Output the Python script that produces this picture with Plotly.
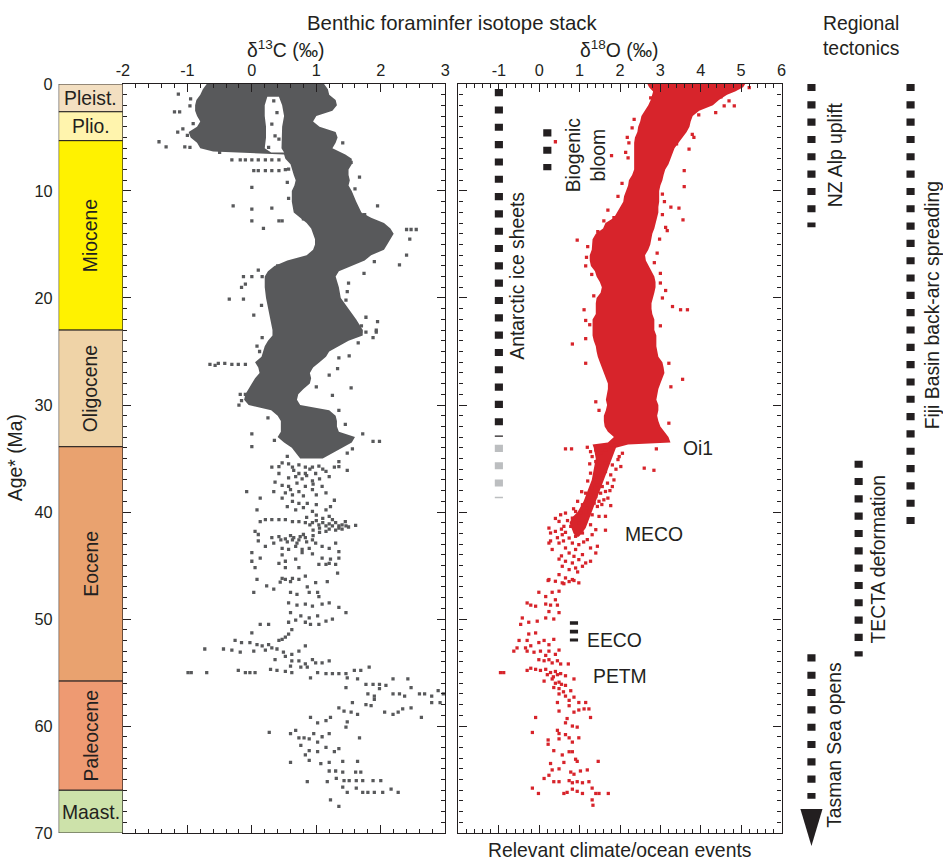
import plotly.graph_objects as go

# ------------------------------------------------------------------ data
# Geologic time scale (Ma)
EPOCHS = ["Pleist.", "Plio.", "Miocene", "Oligocene", "Eocene", "Paleocene", "Maast."]
EPOCH_START = [0.0, 2.6, 5.3, 23.0, 33.9, 55.8, 66.0]
EPOCH_END = [2.6, 5.3, 23.0, 33.9, 55.8, 66.0, 70.0]

AGE_TICKS = [0, 10, 20, 30, 40, 50, 60, 70]
C13_TICKS = [-2, -1, 0, 1, 2, 3]
O18_TICKS = [-1, 0, 1, 2, 3, 4, 5, 6]

# delta13C: densely sampled Neogene/Oligocene part (outer envelope, permil)
C13_CORE_AGE = [0, 0.5, 1, 1.5, 2, 2.5, 3, 3.5, 4, 4.5, 5, 5.5, 6, 6.3, 6.6, 7, 7.5, 8, 8.5, 9,
                9.5, 10, 11, 12, 12.5, 13, 13.5, 14, 14.5, 15, 15.5, 16, 16.5, 17, 17.5, 18, 19, 20, 21, 22,
                23, 23.5, 24, 24.5, 25, 25.5, 26, 26.5, 27, 27.5, 28, 28.5, 29, 29.5, 30, 30.5, 31, 31.5, 32, 32.5,
                33, 33.5, 34, 34.5, 35]
C13_CORE_LO = [-0.70, -0.76, -0.80, -0.86, -0.88, -0.88, -0.85, -0.80, -0.85, -0.98,
               -0.95, -0.85, -0.80, -0.60, 0.50, 0.52, 0.60, 0.62, 0.65, 0.68,
               0.66, 0.62, 0.62, 0.65, 0.75, 0.85, 0.92, 0.95, 0.98, 0.98,
               0.95, 0.85, 0.55, 0.35, 0.25, 0.20, 0.20, 0.22, 0.25, 0.28,
               0.32, 0.32, 0.25, 0.20, 0.18, 0.15, 0.05, 0.10, 0.12, 0.05,
               0.00, -0.05, -0.10, -0.12, -0.05, 0.30, 0.40, 0.45, 0.45, 0.45,
               0.40, 0.50, 0.62, 0.68, 0.75]
C13_CORE_HI = [1.12, 1.18, 1.20, 1.30, 1.32, 1.25, 1.00, 0.95, 1.05, 1.30,
               1.33, 1.30, 1.25, 1.35, 1.45, 1.55, 1.55, 1.50, 1.50, 1.52,
               1.50, 1.55, 1.62, 1.70, 1.85, 2.05, 2.15, 2.20, 2.15, 2.10,
               2.05, 1.85, 1.75, 1.55, 1.35, 1.30, 1.35, 1.38, 1.50, 1.62,
               1.72, 1.72, 1.50, 1.35, 1.20, 1.15, 1.05, 0.95, 0.90, 0.92,
               0.90, 0.80, 0.72, 0.70, 0.75, 1.20, 1.30, 1.32, 1.32, 1.35,
               1.60, 1.55, 1.40, 1.25, 1.10]
# empty notch between the two Plio-Pleistocene delta13C clusters
C13_GAP_AGE = [1.2, 2.0, 3.0, 4.0, 5.0, 6.0, 6.4]
C13_GAP_LO = [0.24, 0.20, 0.20, 0.22, 0.22, 0.20, 0.30]
C13_GAP_HI = [0.42, 0.47, 0.50, 0.47, 0.46, 0.46, 0.50]
# individual delta13C samples (value, age)
C13_SCATTER = [
    (-0.96, 2.05), (-1.20, 2.61), (-1.12, 2.61), (-0.91, 3.70), (-1.15, 4.50), (-1.07, 4.20),
    (-1.44, 5.40), (-1.33, 5.87), (-1.04, 5.87), (-0.96, 5.93), (-1.14, 0.95), (-0.95, 1.40), (-1.00, 4.80),
    (0.31, 3.76), (0.36, 4.84), (0.26, 5.93), (0.42, 5.16), (0.34, 1.58), (0.39, 2.67), (-0.50, 6.40),
    (-0.31, 7.10), (-0.18, 7.10), (-0.10, 7.10), (0.00, 7.10), (0.10, 7.10), (0.21, 7.10), (0.31, 7.10), (0.42, 7.10),
    (0.03, 8.10), (0.10, 8.10), (0.21, 8.10), (0.31, 8.10), (0.42, 8.10), (0.52, 8.00), (0.57, 7.95),
    (0.00, 9.66), (-0.29, 11.40), (0.00, 11.70), (0.00, 12.80), (0.31, 11.60), (0.18, 13.50), (0.55, 9.20),
    (0.42, 12.80), (0.47, 12.80), (0.57, 10.70), (1.95, 11.40), (1.67, 8.70), (1.41, 5.50), (1.54, 7.33),
    (1.60, 9.80), (1.75, 12.20), (0.80, 12.60),
    (2.40, 13.60), (2.47, 13.60), (2.55, 13.60), (2.45, 14.50), (2.40, 16.00), (2.29, 16.90),
    (1.90, 16.60), (1.74, 17.70), (1.48, 19.40), (1.46, 20.20), (0.40, 17.00), (0.10, 17.40), (1.50, 18.60),
    (-0.13, 18.00), (0.00, 18.00), (0.16, 18.00), (-0.16, 19.00), (-0.10, 18.70), (0.15, 20.70),
    (-0.35, 20.10), (-0.13, 20.10), (0.03, 21.60), (1.77, 21.80), (1.95, 22.20), (1.93, 23.00), (1.69, 23.10),
    (1.70, 22.60), (1.65, 24.20), (0.12, 25.00), (1.20, 27.20), (1.00, 28.30), (-0.20, 30.00),
    (0.25, 31.20), (1.45, 31.80), (0.35, 33.30), (0.55, 34.80),
    (-0.65, 26.20), (-0.57, 26.30), (-0.52, 26.10), (-0.42, 26.10), (-0.31, 26.20), (-0.21, 26.20),
    (-0.10, 26.20), (-0.18, 29.00), (-0.10, 29.00), (-0.16, 29.60), (0.00, 32.70), (0.00, 33.90),
    (0.08, 24.50), (0.16, 23.70), (1.77, 23.20), (1.93, 23.20), (1.88, 23.70), (1.51, 25.40),
    (1.35, 25.60), (1.33, 26.60), (1.54, 28.40), (1.25, 29.10), (1.35, 30.50), (1.72, 32.70),
    (1.98, 33.40), (1.88, 33.40), (1.56, 34.10), (1.48, 34.50), (1.35, 35.30), (1.48, 36.10),
    (0.47, 35.40), (0.57, 35.50), (0.63, 35.80), (0.73, 35.60), (0.83, 35.80), (0.94, 35.80), (1.04, 35.70),
    (0.31, 35.80), (0.42, 35.75), (1.15, 36.20), (1.28, 35.80), (1.35, 35.75),
    (0.42, 36.40), (0.73, 36.40), (0.83, 36.40), (0.99, 36.40), (0.65, 36.10), (0.90, 36.00), (1.10, 36.00),
    (0.57, 36.80), (0.68, 36.70), (0.78, 36.90), (0.94, 37.10), (1.20, 36.70), (0.85, 36.60), (1.05, 36.90),
    (0.36, 37.20), (0.47, 37.50), (0.57, 37.60), (0.83, 37.60), (1.09, 37.60), (0.70, 37.30), (0.95, 37.40),
    (0.34, 38.10), (0.52, 38.20), (0.63, 38.40), (0.73, 38.10), (0.94, 37.90), (1.15, 38.20), (-0.08, 38.10),
    (0.80, 38.50), (1.00, 38.40), (0.60, 37.90),
    (0.47, 38.70), (0.63, 39.00), (0.73, 39.20), (0.86, 39.20), (1.28, 38.90), (0.13, 38.70), (0.08, 39.80),
    (0.55, 39.50), (0.68, 39.80), (0.94, 39.95), (1.15, 39.80), (1.22, 39.50), (0.80, 39.60), (1.00, 39.30),
    (0.21, 40.70), (0.31, 40.70), (0.42, 40.70), (0.52, 40.70), (0.63, 40.90), (0.73, 40.90), (0.83, 41.00),
    (0.94, 41.00), (1.04, 41.20), (1.15, 41.30), (1.25, 41.30), (1.35, 41.30), (1.46, 41.30), (1.61, 41.25),
    (1.00, 40.80), (1.10, 41.00), (1.20, 41.10), (1.30, 41.00), (1.40, 41.20), (1.50, 41.40), (1.05, 41.50),
    (1.20, 41.60), (1.35, 41.50), (0.95, 41.70), (1.10, 40.60), (1.25, 40.70), (1.45, 40.90), (0.90, 41.20),
    (1.15, 41.80), (1.30, 41.70), (0.13, 40.90), (0.05, 41.80), (0.10, 42.10), (1.00, 40.30), (1.20, 40.40),
    (0.85, 40.50), (1.05, 41.90), (1.40, 41.60),
    (0.31, 42.40), (0.42, 42.30), (0.52, 42.50), (0.63, 42.60), (0.73, 42.60), (0.83, 42.40), (0.94, 42.60),
    (0.60, 42.20), (0.75, 42.30), (0.85, 42.80), (0.55, 42.80), (0.70, 42.90), (0.95, 42.20),
    (0.65, 42.40), (0.80, 42.10), (0.45, 42.60),
    (0.10, 42.70), (0.21, 43.20), (0.34, 42.90), (0.47, 43.40), (0.57, 43.50), (0.68, 43.20), (0.78, 43.50),
    (0.89, 43.40), (0.99, 42.90), (1.09, 43.20), (1.20, 43.40), (1.30, 42.90), (1.35, 43.70),
    (0.00, 43.80), (0.13, 44.30), (0.47, 44.00), (0.68, 44.40), (0.78, 43.80), (0.94, 43.90), (1.09, 44.30),
    (1.22, 44.40), (1.35, 44.30), (0.00, 44.60), (0.42, 44.80), (0.52, 44.60), (1.20, 44.80), (1.30, 44.90),
    (0.05, 45.20), (0.52, 45.20), (0.73, 45.20), (1.04, 44.90), (1.15, 44.90), (0.08, 46.30),
    (0.47, 46.20), (0.52, 46.30), (0.63, 46.20), (0.73, 46.30), (0.83, 46.00), (0.99, 46.60), (1.17, 46.50),
    (1.33, 45.70),
    (0.03, 47.50), (0.23, 46.90), (0.34, 47.20), (0.44, 46.55), (0.60, 46.50), (0.86, 47.00),
    (1.02, 47.50), (0.60, 47.50), (0.70, 47.70), (0.89, 47.50), (1.04, 47.90),
    (0.57, 48.50), (0.70, 48.70), (0.83, 48.60), (0.94, 48.80), (1.09, 48.60), (1.20, 48.50), (1.35, 48.90),
    (1.46, 49.40), (0.60, 49.40), (0.76, 49.70), (0.89, 49.90), (1.02, 49.70), (1.15, 50.20), (1.25, 50.00),
    (0.68, 50.10), (0.83, 50.30), (0.91, 50.50), (1.04, 50.50), (0.13, 50.50), (0.26, 50.50), (0.00, 51.30),
    (0.57, 50.30), (0.62, 51.00), (0.57, 51.40), (0.52, 51.70), (0.47, 51.90), (0.42, 52.00),
    (-0.26, 52.00), (-0.16, 52.20), (-0.03, 52.20), (0.08, 52.40), (0.16, 52.50), (0.26, 52.40), (0.31, 52.70),
    (-0.73, 52.80), (-0.44, 52.80), (-0.31, 52.90), (-0.18, 53.10),
    (0.03, 53.00), (0.21, 52.90), (0.39, 52.80), (0.49, 53.10), (0.62, 53.30), (0.73, 53.00), (0.83, 52.50),
    (-0.99, 55.00), (-0.94, 55.00), (-0.70, 55.00), (-0.21, 54.80), (-0.10, 55.00), (-0.03, 55.00), (0.05, 55.00),
    (0.29, 54.70), (0.39, 54.80), (0.52, 54.90), (0.62, 55.00),
    (0.36, 53.80), (0.52, 53.50), (0.62, 53.90), (0.73, 53.90), (0.83, 54.20), (0.94, 53.80), (0.99, 54.10),
    (1.09, 54.10), (1.20, 53.90), (0.60, 54.40), (0.76, 54.50), (0.86, 54.50), (0.91, 55.50),
    (1.02, 55.00), (1.15, 55.10), (1.25, 55.10), (1.35, 55.10), (1.46, 55.10), (1.59, 54.80), (1.69, 54.80),
    (1.82, 54.50), (1.48, 55.50), (1.64, 55.60), (1.77, 56.10), (1.88, 56.10), (1.98, 56.10), (2.08, 56.20),
    (2.19, 55.60), (1.46, 56.40),
    (1.80, 57.00), (1.90, 57.20), (1.98, 56.50), (2.19, 57.00), (2.29, 57.00), (2.37, 57.20), (2.42, 55.60),
    (2.47, 56.40), (2.60, 57.00), (2.68, 57.00), (2.79, 57.20), (2.89, 56.70), (2.97, 57.00),
    (2.79, 57.80), (2.92, 57.80), (2.63, 59.20), (2.47, 58.30), (2.34, 58.40), (2.27, 58.70), (2.19, 58.90),
    (2.06, 58.70), (1.85, 58.10), (1.77, 58.00), (1.90, 57.50),
    (1.35, 58.30), (1.43, 58.60), (1.54, 58.70), (1.64, 58.90), (1.56, 57.80),
    (1.46, 60.10), (1.48, 59.60), (1.67, 61.10), (0.91, 59.20), (1.02, 59.70), (1.15, 59.50), (1.22, 59.20),
    (0.27, 60.60), (0.60, 60.70), (0.68, 60.40), (0.73, 61.10), (0.81, 61.10), (0.89, 61.20), (0.96, 60.70),
    (1.02, 61.50), (1.09, 61.00), (1.20, 60.70),
    (0.76, 61.80), (0.89, 62.30), (1.02, 62.40), (1.15, 62.00), (1.28, 62.40), (1.35, 62.10),
    (0.60, 63.40), (0.83, 62.70), (0.89, 63.20), (1.07, 63.50), (1.20, 63.40), (1.41, 63.30), (1.64, 63.30),
    (1.20, 64.20), (1.30, 64.20), (1.41, 64.30), (1.61, 64.30), (1.69, 64.30),
    (1.31, 64.90), (1.43, 65.10), (1.51, 65.10), (1.62, 65.10), (1.72, 65.10), (1.88, 65.10), (2.00, 65.10),
    (0.86, 65.20), (1.17, 65.20), (1.41, 65.70), (1.62, 65.80),
    (1.72, 66.20), (1.80, 66.20), (1.90, 66.20), (2.03, 66.20), (2.16, 65.90), (2.27, 66.20), (1.48, 66.20),
    (1.22, 66.90), (1.35, 67.50),
]

# delta18O: densely sampled Neogene/Oligocene/late Eocene part (outer envelope, permil)
O18_CORE_AGE = [0, 0.3, 0.7, 1, 1.5, 2, 2.5, 3, 3.5, 4,
                4.5, 5, 5.5, 6, 7, 7.5, 8, 8.5, 9, 9.5,
                10, 10.5, 11, 11.5, 12, 12.5, 13, 13.5, 14, 14.5,
                15, 15.5, 16, 16.5, 17, 17.5, 18, 18.5, 19, 19.5,
                20, 20.5, 21, 21.5, 22, 22.5, 23, 23.5, 24, 24.5,
                25, 25.5, 26, 26.5, 27, 27.5, 28, 28.5, 29, 29.5,
                30, 30.5, 31, 31.5, 32, 32.5, 33, 33.5, 33.7, 34,
                35, 36, 37, 38, 39, 40, 40.5, 41, 41.5, 42, 42.3]
O18_CORE_LO = [2.68, 2.72, 2.82, 2.80, 2.76, 2.70, 2.62, 2.53, 2.50, 2.45,
               2.43, 2.37, 2.35, 2.35, 2.35, 2.35, 2.35, 2.30, 2.22, 2.20,
               2.14, 2.10, 2.08, 2.00, 1.92, 1.85, 1.64, 1.58, 1.40, 1.32,
               1.31, 1.30, 1.25, 1.25, 1.28, 1.38, 1.42, 1.50, 1.55, 1.52,
               1.42, 1.40, 1.40, 1.40, 1.32, 1.32, 1.32, 1.32, 1.35, 1.40,
               1.42, 1.45, 1.50, 1.55, 1.60, 1.65, 1.70, 1.70, 1.68, 1.65,
               1.68, 1.65, 1.60, 1.60, 1.62, 1.70, 1.85, 1.70, 1.32, 1.35,
               1.40, 1.35, 1.30, 1.20, 1.10, 0.95, 0.82, 0.75, 0.80, 0.85, 0.92]
O18_CORE_HI = [5.10, 5.05, 4.85, 4.65, 4.45, 4.30, 3.96, 3.80, 3.75, 3.72,
               3.65, 3.55, 3.45, 3.35, 3.25, 3.20, 3.12, 3.08, 3.05, 3.00,
               2.97, 2.97, 2.97, 2.95, 2.95, 2.92, 2.88, 2.85, 2.80, 2.78,
               2.75, 2.70, 2.62, 2.64, 2.70, 2.78, 2.85, 2.88, 2.88, 2.85,
               2.82, 2.78, 2.78, 2.80, 2.85, 2.85, 2.85, 2.90, 2.90, 2.90,
               2.92, 2.95, 3.05, 3.08, 3.10, 3.05, 3.00, 2.95, 2.92, 2.90,
               2.95, 2.95, 2.92, 2.95, 3.00, 3.10, 3.20, 3.25, 2.20, 1.90,
               1.80, 1.70, 1.60, 1.50, 1.40, 1.30, 1.25, 1.20, 1.15, 1.05, 0.98]
# individual delta18O samples (value, age)
O18_SCATTER = [
    (0.40, 5.40), (1.79, 6.70), (0.94, 14.60), (1.15, 17.00), (1.11, 21.10), (1.15, 22.10),
    (3.59, 8.10), (3.59, 9.60), (3.71, 6.10), (3.79, 4.70), (3.83, 5.00), (4.37, 2.67), (4.58, 2.05),
    (4.70, 1.58), (4.83, 2.05), (5.20, 0.34), (3.26, 11.50), (3.46, 11.60), (3.56, 12.70), (3.13, 13.40),
    (3.17, 13.70), (3.13, 19.30), (3.00, 17.70), (3.30, 20.80), (3.50, 21.10), (3.67, 21.10), (2.76, 1.30),
    (2.18, 5.00), (2.22, 5.50), (2.14, 6.40), (1.60, 12.80), (1.85, 12.50),
    (2.35, 3.30), (2.30, 4.10), (2.20, 6.90), (2.05, 9.30), (1.95, 10.50), (1.70, 11.80), (1.45, 13.80),
    (1.20, 15.20), (1.17, 16.20), (1.30, 17.80), (1.35, 19.80), (1.25, 22.50), (3.05, 10.30), (3.10, 11.00),
    (3.05, 12.20), (2.98, 14.50), (2.92, 15.80), (2.85, 16.70), (3.00, 18.60), (3.05, 20.00), (3.00, 22.60),
    (3.40, 5.60), (3.55, 4.20), (4.20, 1.80), (4.50, 1.20), (3.95, 2.90),
    (0.82, 24.30), (1.15, 26.10), (1.15, 23.80), (3.55, 27.60), (3.26, 28.30), (3.21, 26.10), (1.40, 29.70),
    (1.48, 30.50), (3.21, 31.70), (0.65, 34.10), (0.80, 34.10), (2.60, 35.90), (2.84, 36.10), (2.90, 34.10),
    (1.77, 39.40), (1.64, 40.40), (1.64, 41.70), (0.24, 41.50), (0.28, 42.70), (0.32, 43.50), (0.49, 44.40),
    (1.44, 43.20),
    (1.19, 33.95), (1.27, 34.36), (1.40, 34.20), (1.52, 34.51), (1.64, 34.20), (1.77, 34.05), (1.89, 33.73),
    (2.06, 34.51), (1.98, 34.82), (1.40, 35.29), (1.48, 35.75), (1.64, 35.44), (1.81, 35.60), (2.02, 35.75),
    (1.31, 34.82), (1.27, 36.37), (1.40, 36.69), (1.52, 36.84), (1.64, 36.22), (1.77, 36.53), (1.85, 37.00),
    (1.44, 37.46), (1.56, 37.62), (1.69, 37.30), (1.81, 37.62), (1.31, 37.77), (1.95, 35.10), (1.90, 36.00),
    (1.25, 35.50), (1.20, 37.10), (1.75, 38.00), (1.70, 38.70), (1.05, 38.10), (1.55, 39.30),
    (1.15, 38.24), (1.27, 38.39), (1.40, 38.55), (1.52, 38.24), (1.64, 38.08), (1.23, 38.86), (1.36, 39.17),
    (1.48, 39.00), (1.60, 38.86), (1.07, 39.32), (1.19, 39.64), (1.44, 39.48), (0.95, 39.00), (0.85, 39.70),
    (0.90, 39.95), (1.02, 40.10), (1.15, 39.95), (1.31, 40.26), (1.48, 40.41), (0.53, 40.26), (0.65, 40.10),
    (0.82, 40.57), (0.49, 40.88), (0.61, 41.34), (0.78, 41.34), (0.98, 41.03), (1.15, 40.88), (1.27, 41.19),
    (1.40, 41.65), (0.28, 41.96), (0.40, 41.81), (0.57, 42.12), (0.74, 42.43), (0.90, 42.27),
    (1.07, 41.96), (1.19, 42.58), (1.31, 42.12), (0.82, 42.90), (0.98, 43.05), (0.49, 42.90), (0.65, 43.36),
    (0.24, 42.90), (1.27, 43.36), (1.40, 43.83), (0.40, 40.60), (0.55, 41.60), (0.70, 40.80), (0.45, 42.40),
    (0.65, 41.90), (1.10, 42.80), (0.90, 43.50), (0.60, 42.70),
    (0.74, 43.83), (0.86, 44.14), (0.98, 44.45), (1.15, 44.76), (1.07, 43.98), (0.65, 44.60), (0.82, 44.76),
    (0.57, 45.07), (0.74, 45.38), (0.90, 45.23), (1.07, 45.07), (1.27, 44.60), (0.49, 45.85), (0.65, 46.16),
    (0.24, 46.31), (0.40, 46.47), (0.57, 46.62), (0.82, 46.31), (0.98, 46.62), (0.55, 44.10), (0.95, 45.60),
    (0.22, 46.40), (0.61, 46.70), (0.74, 46.50), (0.86, 46.40),
    (-0.01, 47.50), (0.16, 47.90), (0.32, 47.50), (0.49, 47.40), (0.40, 48.20),
    (-0.30, 48.50), (-0.21, 48.70), (-0.09, 48.80), (0.16, 48.60), (0.28, 48.70), (0.45, 48.70), (0.24, 49.30),
    (-0.42, 49.90), (-0.46, 50.50), (-0.26, 50.30), (-0.05, 50.20), (0.16, 49.90), (0.36, 50.00), (0.49, 49.40),
    (-0.09, 51.30), (-0.26, 51.40), (-0.30, 52.00),
    (-0.50, 52.00), (-0.63, 53.00), (-0.55, 52.70), (-0.34, 52.70), (-0.21, 52.50), (-0.01, 52.20),
    (0.12, 52.00), (0.24, 52.40), (0.36, 51.90),
    (-0.30, 53.00), (-0.13, 53.10), (0.03, 53.00), (0.16, 53.40), (0.24, 53.00), (0.40, 53.30), (0.49, 52.90),
    (-0.01, 53.80), (0.12, 53.90), (0.24, 53.80), (0.32, 54.10), (0.45, 53.90), (0.53, 54.20), (0.72, 54.20),
    (-0.96, 55.00), (-0.88, 55.00),
    (-0.30, 54.80), (-0.21, 54.60), (-0.09, 54.70), (0.03, 54.80), (0.16, 54.70), (0.28, 55.00), (0.40, 54.90),
    (0.53, 55.10), (0.65, 55.30), (0.86, 55.60), (0.20, 55.20), (0.35, 55.40), (0.45, 55.20),
    (0.12, 55.80), (0.32, 55.60), (0.49, 55.90), (0.36, 56.40), (0.49, 56.50), (0.65, 56.20), (0.78, 56.70),
    (0.40, 56.00), (0.55, 56.10), (0.60, 56.80),
    (0.49, 57.00), (0.65, 57.20), (0.86, 57.30), (0.98, 57.80), (1.15, 57.80), (0.74, 57.60),
    (0.45, 57.80), (0.49, 58.60), (0.74, 58.10), (0.86, 58.70), (0.98, 58.50), (1.11, 58.40), (1.23, 58.40),
    (1.27, 59.20), (-0.09, 59.20), (0.69, 59.30), (0.65, 59.70), (0.82, 60.00), (0.94, 60.10),
    (-0.17, 60.60), (0.45, 60.40), (0.49, 60.70), (0.65, 60.80), (0.74, 61.10), (0.49, 61.20), (0.82, 61.50),
    (0.98, 61.10), (0.22, 61.30), (0.22, 61.70), (0.36, 62.30), (0.57, 62.70), (0.74, 62.40), (0.82, 62.40),
    (0.90, 63.10), (0.94, 63.30), (0.61, 63.40), (1.46, 63.30),
    (0.28, 63.50), (0.32, 64.10), (0.24, 64.60), (0.12, 64.90), (0.49, 64.00), (0.78, 64.30), (0.86, 64.50),
    (1.02, 64.20), (1.19, 64.10),
    (0.36, 65.20), (0.49, 65.20), (0.74, 65.10), (0.82, 65.30), (0.94, 65.20), (1.07, 65.30), (1.23, 65.20),
    (-0.17, 65.80), (-0.02, 66.30), (0.61, 66.30), (0.69, 66.20), (0.82, 65.90), (0.94, 66.10), (1.07, 66.30),
    (1.31, 65.80), (1.40, 66.30), (1.48, 66.30), (1.71, 66.30), (1.31, 66.90), (1.33, 67.40),
]

# climate / ocean events (age ranges, Ma)
ICE_SHEETS = (0.48, 32.97)
ICE_SHEETS_EARLY = (33.72, 38.72)
BIOGENIC_BLOOM = (4.24, 8.06)
EECO = (50.2, 52.1)

# regional tectonic events (age ranges, Ma)
NZ_ALP_UPLIFT = (0.0, 13.4)
FIJI_SPREADING = (0.0, 41.7)
TECTA_DEFORMATION = (35.2, 53.5)
TASMAN_OPENING = (53.3, 66.8)

# ------------------------------------------------------------------ style
FONT = "Liberation Sans, Arial, Helvetica, sans-serif"
INK = "#231F20"
GRAY = "#58595B"
RED = "#D7242B"
PALE = "#BCBEC0"
EPOCH_COLORS = ["#F3DFC1", "#FFF4AD", "#FFF200", "#EFD3A7", "#E9A26F", "#EE9A72", "#CDE2AA"]
EPOCH_UPRIGHT = [True, True, False, False, False, False, True]

# Layout is designed on a 943 x 860 grid; the page shows it slightly reduced
# and inside the default 8 px body margin, so grid units are converted here.
GRID_W, GRID_H = 943, 860
BODY_MARGIN = 8
SCALE_X = (GRID_W + 2 * BODY_MARGIN) / GRID_W
SCALE_Y = (GRID_H + 2 * BODY_MARGIN) / GRID_H
W = int(round(GRID_W * SCALE_X - BODY_MARGIN))
H = int(round(GRID_H * SCALE_Y - BODY_MARGIN))
TOP, BOTTOM = 83, 834          # grid rows of 0 Ma and 70 Ma
PX_PER_MA = (BOTTOM - TOP) / 70.0


def fx(gx):
    """grid column -> paper fraction"""
    return (gx * SCALE_X - BODY_MARGIN) / W


def fy(gy):
    """grid row -> paper fraction"""
    return 1 - (gy * SCALE_Y - BODY_MARGIN) / H


def s(v):
    """grid length -> figure pixels"""
    return v * SCALE_Y


Y_DOMAIN = [fy(BOTTOM), fy(TOP)]

# lane positions (grid columns) of the tectonic event columns
LANE_LEFT, LANE_RIGHT = 792, 943
LANE_NZ, LANE_TECTA, LANE_FIJI = 809, 856, 907.7
ICE_X, BLOOM_X, EECO_X = -1.0, 0.2, 0.86

fig = go.Figure()

# geologic time column
mid = [(a + b) / 2 for a, b in zip(EPOCH_START, EPOCH_END)]
dur = [b - a for a, b in zip(EPOCH_START, EPOCH_END)]
fig.add_trace(go.Bar(x=[1] * len(EPOCHS), y=mid, width=dur, base=0, orientation="h",
                     marker=dict(color=EPOCH_COLORS, line=dict(color=INK, width=1)),
                     xaxis="x3", yaxis="y3", hoverinfo="skip"))


def band(age, lo, hi):
    xs = list(lo) + list(hi)[::-1] + [lo[0]]
    ys = list(age) + list(age)[::-1] + [age[0]]
    return xs, ys


def cloud(xs, ys, color, xa, ya):
    return go.Scatter(x=xs, y=ys, mode="lines", fill="toself", fillcolor=color,
                      line=dict(width=0, color=color), xaxis=xa, yaxis=ya, hoverinfo="skip")


def dots(pairs, color, xa, ya):
    return go.Scatter(x=[p[0] for p in pairs], y=[p[1] for p in pairs], mode="markers",
                      marker=dict(symbol="square", size=s(3.2), color=color, line=dict(width=0)),
                      xaxis=xa, yaxis=ya, hoverinfo="skip")


# delta13C panel
fig.add_trace(cloud(*band(C13_CORE_AGE, C13_CORE_LO, C13_CORE_HI), GRAY, "x", "y"))
fig.add_trace(cloud(*band(C13_GAP_AGE, C13_GAP_LO, C13_GAP_HI), "white", "x", "y"))
fig.add_trace(dots(C13_SCATTER, GRAY, "x", "y"))

# delta18O panel
fig.add_trace(cloud(*band(O18_CORE_AGE, O18_CORE_LO, O18_CORE_HI), RED, "x2", "y2"))
fig.add_trace(dots(O18_SCATTER, RED, "x2", "y2"))


def dashed(x, span, color, xa, ya, on=7, off=10, width=8):
    return go.Scatter(x=[x, x], y=list(span), mode="lines",
                      line=dict(color=color, width=s(width), dash=f"{s(on):.2f}px,{s(off):.2f}px"),
                      xaxis=xa, yaxis=ya, hoverinfo="skip")


fig.add_trace(dashed(ICE_X, ICE_SHEETS, INK, "x2", "y2"))
fig.add_trace(dashed(ICE_X, ICE_SHEETS_EARLY, PALE, "x2", "y2"))
fig.add_trace(dashed(BLOOM_X, BIOGENIC_BLOOM, INK, "x2", "y2"))
fig.add_trace(dashed(EECO_X, EECO, INK, "x2", "y2", on=3.5, off=5))

# tectonics lanes
fig.add_trace(dashed(LANE_NZ, NZ_ALP_UPLIFT, INK, "x4", "y4"))
fig.add_trace(dashed(LANE_FIJI, FIJI_SPREADING, INK, "x4", "y4"))
fig.add_trace(dashed(LANE_TECTA, TECTA_DEFORMATION, INK, "x4", "y4"))
fig.add_trace(dashed(LANE_NZ, TASMAN_OPENING, INK, "x4", "y4"))
head_top = TASMAN_OPENING[1] + 0.95
head_tip = head_top + 3.45
fig.add_trace(go.Scatter(x=[LANE_NZ - 11, LANE_NZ + 11, LANE_NZ, LANE_NZ - 11],
                         y=[head_top, head_top, head_tip, head_top], mode="lines", fill="toself",
                         fillcolor=INK, line=dict(width=0, color=INK),
                         xaxis="x4", yaxis="y4", hoverinfo="skip"))

# ------------------------------------------------------------------ axes
tick_font = dict(family=FONT, size=s(16), color=INK)
frame = dict(showline=True, linecolor=INK, linewidth=1.2, mirror="allticks",
             showgrid=False, zeroline=False, ticks="inside", ticklen=s(8), tickwidth=1.1, tickcolor=INK,
             tickfont=tick_font)
minor_common = dict(ticks="inside", ticklen=s(4), tickwidth=1, tickcolor=INK)


def age_axis(anchor):
    d = dict(frame)
    d.update(domain=Y_DOMAIN, range=[70, 0], anchor=anchor, tickvals=AGE_TICKS, showticklabels=False,
             minor=dict(dtick=1, tick0=0, **minor_common))
    return d


xa1 = dict(frame)
xa1.update(domain=[fx(123.3), fx(444.3)], range=[-2, 3], side="top", anchor="y",
           tickvals=C13_TICKS, ticktext=[str(v) for v in C13_TICKS],
           minor=dict(dtick=0.2, tick0=-2, **minor_common))
xa2 = dict(frame)
xa2.update(domain=[fx(457.5), fx(779.2)], range=[-2, 6], side="top", anchor="y2",
           tickvals=O18_TICKS, ticktext=[str(v) for v in O18_TICKS],
           minor=dict(dtick=0.2, tick0=-2, **minor_common))

fig.update_layout(
    width=W, height=H, autosize=False, margin=dict(l=0, r=0, t=0, b=0),
    paper_bgcolor="white", plot_bgcolor="white", showlegend=False,
    font=dict(family=FONT, color=INK),
    xaxis=xa1, yaxis=age_axis("x"),
    xaxis2=xa2, yaxis2=age_axis("x2"),
    xaxis3=dict(domain=[fx(59.3), fx(123.3)], range=[0, 1], anchor="y3", visible=False, fixedrange=True),
    yaxis3=dict(domain=Y_DOMAIN, range=[70, 0], anchor="x3", tickvals=AGE_TICKS, ticks="",
                showline=False, showgrid=False, zeroline=False, tickfont=tick_font,
                ticklabelstandoff=int(round(s(5)))),
    xaxis4=dict(domain=[fx(LANE_LEFT), min(1.0, fx(LANE_RIGHT))], range=[LANE_LEFT, LANE_RIGHT],
                anchor="y4", visible=False),
    yaxis4=dict(domain=[max(0.0, fy(GRID_H)), fy(TOP)], range=[(GRID_H - TOP) / PX_PER_MA, 0],
                anchor="x4", visible=False),
)

# ------------------------------------------------------------------ text
annotations = []
for name, a, b, upright in zip(EPOCHS, EPOCH_START, EPOCH_END, EPOCH_UPRIGHT):
    annotations.append(dict(text=name, x=0.5, y=(a + b) / 2, xref="x3", yref="y3",
                            textangle=0 if upright else -90, showarrow=False,
                            font=dict(family=FONT, size=s(19), color=INK)))

TEXTS = [
    ("Benthic foraminfer isotope stack", 452, 22, 0, 20),
    ("\u03b4<sup>13</sup>C (\u2030)", 285, 48, 0, 19),
    ("\u03b4<sup>18</sup>O (\u2030)", 618, 48, 0, 19),
    ("Regional<br>tectonics", 858, 34.5, 0, 19),
    ("Age* (Ma)", 16, 458, -90, 19),
    ("Relevant climate/ocean events", 618, 851, 0, 19),
    ("Oi1", 696, 448, 0, 19),
    ("MECO", 652, 534, 0, 19),
    ("EECO", 613, 640, 0, 19),
    ("PETM", 618, 677, 0, 19),
    ("Biogenic<br>bloom", 584, 154, -90, 19),
    ("Antarctic ice sheets", 516, 275, -90, 19),
    ("NZ Alp uplift", 832, 154, -90, 19),
    ("Fiji Basin back-arc spreading", 929, 305, -90, 19),
    ("TECTA deformation", 875, 560, -90, 19),
    ("Tasman Sea opens", 832, 746, -90, 19),
]
for text, x, y, ang, size in TEXTS:
    annotations.append(dict(text=text, x=fx(x), y=fy(y), xref="paper", yref="paper",
                            xanchor="center", yanchor="middle", textangle=ang, showarrow=False,
                            font=dict(family=FONT, size=s(size), color=INK)))
fig.update_layout(annotations=annotations)

fig.write_html("out.html")
